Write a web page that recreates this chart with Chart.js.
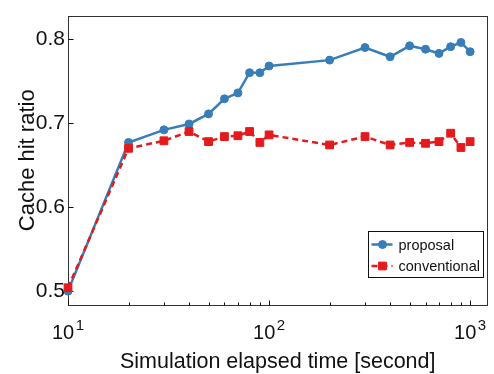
<!DOCTYPE html>
<html>
<head>
<meta charset="utf-8">
<script src="https://cdn.jsdelivr.net/npm/chart.js@4/dist/chart.umd.min.js"></script>
<style>
  html, body { margin: 0; padding: 0; background: #fff; }
  canvas { display: block; }
</style>
</head>
<body>
<canvas id="c" width="494" height="374"></canvas>
<script>
// Elapsed simulation time (seconds) and measured cache hit ratios
const elapsedSeconds = [10, 20, 30, 40, 50, 60, 70, 80, 90, 100, 200, 300, 400, 500, 600, 700, 800, 900, 1000];
const proposalHitRatio = [0.500, 0.677, 0.692, 0.699, 0.711, 0.729, 0.736, 0.760, 0.760, 0.768, 0.775, 0.790, 0.779, 0.792, 0.788, 0.783, 0.791, 0.796, 0.785];
const conventionalHitRatio = [0.504, 0.670, 0.679, 0.690, 0.678, 0.684, 0.685, 0.690, 0.677, 0.686, 0.674, 0.684, 0.674, 0.677, 0.676, 0.678, 0.688, 0.671, 0.678];
const yTickValues = [0.5, 0.6, 0.7, 0.8];
const xMajorTicks = [10, 100, 1000];
const xMinorTicks = [20, 30, 40, 50, 60, 70, 80, 90, 200, 300, 400, 500, 600, 700, 800, 900];
const seriesNames = ['proposal', 'conventional'];

const FONT = "'Liberation Sans', Arial, Helvetica, sans-serif";
const BLUE = '#377eb8';
const RED = '#e41a1c';
const INK = '#111';

// Axis frame and inward tick marks
const framePlugin = {
  id: 'frame',
  beforeDatasetsDraw(chart) {
    const { ctx, chartArea: a, scales } = chart;
    ctx.save();
    ctx.strokeStyle = '#333';
    ctx.lineWidth = 1;
    ctx.strokeRect(Math.round(a.left) + 0.5, Math.round(a.top) + 0.5,
                   Math.round(a.right - a.left) - 1, Math.round(a.bottom - a.top));
    ctx.strokeStyle = INK;
    ctx.beginPath();
    const yb = Math.round(a.bottom) + 0.5;
    xMajorTicks.forEach(v => {
      const x = Math.round(scales.x.getPixelForValue(v)) + 0.5;
      ctx.moveTo(x, yb); ctx.lineTo(x, yb - 5);
    });
    xMinorTicks.forEach(v => {
      const x = Math.round(scales.x.getPixelForValue(v)) + 0.5;
      ctx.moveTo(x, yb); ctx.lineTo(x, yb - 3);
    });
    const xl = Math.round(a.left) + 0.5;
    yTickValues.forEach(v => {
      const y = Math.round(scales.y.getPixelForValue(v)) + 0.5;
      ctx.moveTo(xl, y); ctx.lineTo(xl + 5, y);
    });
    ctx.stroke();
    ctx.restore();
  },
  afterDraw(chart) {
    const { ctx, chartArea: a, scales } = chart;
    ctx.save();
    // power-of-ten tick labels with raised exponents
    ctx.fillStyle = INK;
    ctx.textBaseline = 'alphabetic';
    xMajorTicks.forEach(v => {
      const exp = String(Math.round(Math.log10(v)));
      ctx.font = `20px ${FONT}`;
      const wb = ctx.measureText('10').width;
      ctx.font = `15px ${FONT}`;
      const we = ctx.measureText(exp).width;
      const gap = 1.5;
      const x0 = scales.x.getPixelForValue(v) - (wb + we + gap) / 2;
      const base = a.bottom + 34;
      ctx.font = `20px ${FONT}`;
      ctx.textAlign = 'left';
      ctx.fillText('10', x0, base);
      ctx.font = `15px ${FONT}`;
      ctx.fillText(exp, x0 + wb + gap, base - 9);
    });

    // legend box
    const bw = 115, bh = 46;
    const bx = Math.round(a.right - 5 - bw) + 0.5;
    const by = Math.round(a.bottom - 28 - bh) + 0.5;
    ctx.fillStyle = '#fff';
    ctx.fillRect(bx, by, bw, bh);
    ctx.strokeStyle = INK;
    ctx.lineWidth = 1;
    ctx.strokeRect(bx, by, bw, bh);
    chart.data.datasets.forEach((ds, i) => {
      const cy = by + 13 + i * 21.5;
      const lx0 = bx + 3, lx1 = bx + 24, mx = bx + 14;
      ctx.strokeStyle = ds.borderColor;
      ctx.lineWidth = 2.5;
      ctx.setLineDash(ds.borderDash || []);
      ctx.beginPath(); ctx.moveTo(lx0, cy); ctx.lineTo(lx1, cy); ctx.stroke();
      ctx.setLineDash([]);
      ctx.fillStyle = ds.borderColor;
      ctx.strokeStyle = ds.borderColor;
      ctx.lineWidth = ds.pointBorderWidth;
      ctx.beginPath();
      if (ds.pointStyle === 'rect') {
        const s = Math.SQRT1_2 * ds.pointRadius;
        ctx.rect(mx - s, cy - s, 2 * s, 2 * s);
      } else {
        ctx.arc(mx, cy, ds.pointRadius, 0, Math.PI * 2);
      }
      ctx.fill(); ctx.stroke();
      ctx.fillStyle = INK;
      ctx.font = `14.5px ${FONT}`;
      ctx.textAlign = 'left';
      ctx.textBaseline = 'middle';
      ctx.fillText(ds.label, bx + 30, cy + 1);
    });
    ctx.restore();
  }
};

const toPoints = ys => elapsedSeconds.map((x, i) => ({ x, y: ys[i] }));

new Chart(document.getElementById('c'), {
  type: 'line',
  data: {
    datasets: [
      {
        label: seriesNames[0],
        data: toPoints(proposalHitRatio),
        borderColor: BLUE, backgroundColor: BLUE,
        borderWidth: 2.5, tension: 0,
        pointStyle: 'circle', pointRadius: 4, pointBorderWidth: 1,
        pointBackgroundColor: BLUE, pointBorderColor: BLUE,
        order: 2, clip: false
      },
      {
        label: seriesNames[1],
        data: toPoints(conventionalHitRatio),
        borderColor: RED, backgroundColor: RED,
        borderWidth: 2.5, borderDash: [6, 4], tension: 0,
        pointStyle: 'rect', pointRadius: 5.5, pointBorderWidth: 1,
        pointBackgroundColor: RED, pointBorderColor: RED,
        order: 1, clip: false
      }
    ]
  },
  options: {
    responsive: false,
    animation: false,
    layout: { padding: { top: 12, right: 5, left: 0, bottom: 0 } },
    plugins: { legend: { display: false }, tooltip: { enabled: false } },
    scales: {
      x: {
        type: 'logarithmic',
        min: 10, max: 1220,
        grid: { display: false },
        border: { display: false },
        ticks: { display: false },
        afterFit: s => { s.height = 69; },
        title: {
          display: true, text: 'Simulation elapsed time [second]',
          color: INK, font: { family: FONT, size: 21.5, lineHeight: 1 },
          padding: { top: 0, bottom: 1 }
        }
      },
      y: {
        type: 'linear',
        min: 0.4835, max: 0.828,
        grid: { display: false, drawTicks: false },
        border: { display: false },
        afterBuildTicks: s => { s.ticks = yTickValues.map(v => ({ value: v })); },
        afterFit: s => { s.width = 68; },
        ticks: {
          color: INK, font: { family: FONT, size: 21 }, padding: 3,
          callback: v => v.toFixed(1)
        },
        title: {
          display: true, text: 'Cache hit ratio',
          color: INK, font: { family: FONT, size: 22, lineHeight: 1.2 },
          padding: { top: 15, bottom: 0 }
        }
      }
    }
  },
  plugins: [framePlugin]
});
</script>
</body>
</html>
